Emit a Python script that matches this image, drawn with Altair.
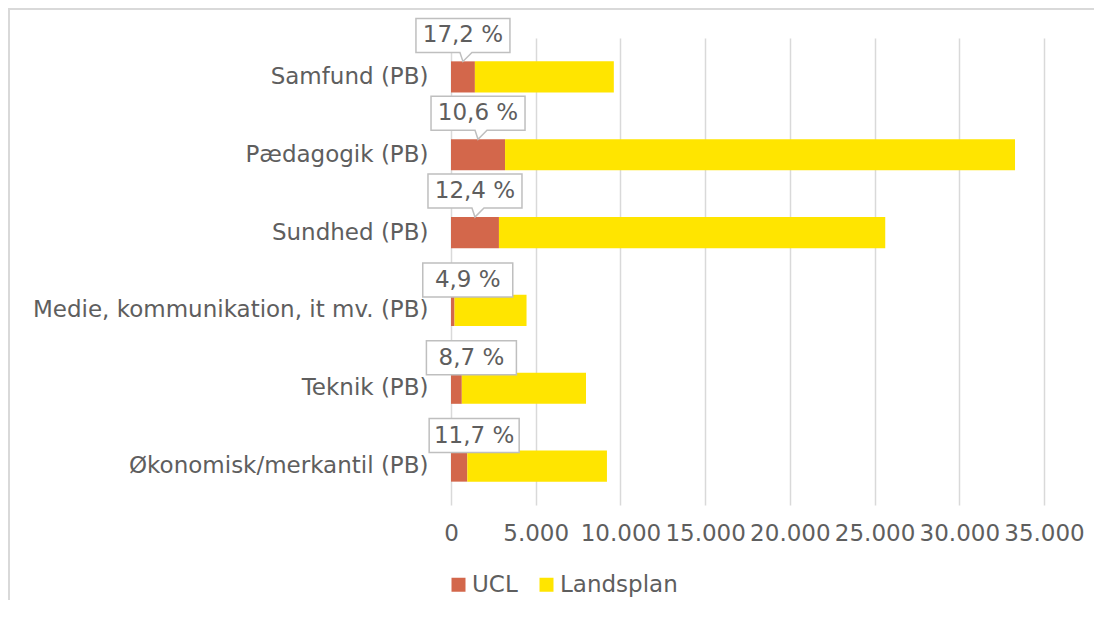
import altair as alt
import pandas as pd

categories = [
    "Samfund (PB)",
    "Pædagogik (PB)",
    "Sundhed (PB)",
    "Medie, kommunikation, it mv. (PB)",
    "Teknik (PB)",
    "Økonomisk/merkantil (PB)",
]
ucl = [1410, 3190, 2830, 208, 638, 964]
landsplan = [8200, 30100, 22800, 4250, 7330, 8240]
pct_labels = ["17,2 %", "10,6 %", "12,4 %", "4,9 %", "8,7 %", "11,7 %"]
series = ["UCL", "Landsplan"]
series_colors = ["#D3674B", "#FFE500"]
x_ticks = [0, 5000, 10000, 15000, 20000, 25000, 30000, 35000]

FONT = "DejaVu Sans"
FS = 23
TXT = "#5E5E5E"
GRID = "#D9D9D9"
BOX = "#BFBFBF"

rows = []
for i, c in enumerate(categories):
    rows.append({"cat": c, "series": series[0], "value": ucl[i], "sorder": 0})
    rows.append({"cat": c, "series": series[1], "value": landsplan[i], "sorder": 1})
bars_df = pd.DataFrame(rows)

lab_df = pd.DataFrame({
    "cat": categories,
    "ucl": ucl,
    "label": pct_labels,
    "idx": list(range(len(categories))),
})

xscale = alt.Scale(domain=[0, 35000], nice=False)
yscale = alt.Scale(paddingInner=0.6)
xaxis = alt.Axis(
    values=x_ticks, title=None,
    labelExpr="replace(format(datum.value, ','), ',', '.')",
    labelFont=FONT, labelFontSize=FS, labelColor=TXT, labelPadding=17,
    labelOverlap=False, labelFlush=False,
    ticks=False, domain=False, grid=True, gridColor=GRID, gridWidth=1.5,
)
yaxis = alt.Axis(
    title=None, labelFont=FONT, labelFontSize=FS, labelColor=TXT,
    labelPadding=23, labelLimit=700, ticks=False, domain=False, grid=False,
)

bars = alt.Chart(bars_df).mark_bar().encode(
    x=alt.X("value:Q", stack="zero", scale=xscale, axis=xaxis),
    y=alt.Y("cat:N", sort=categories, scale=yscale, axis=yaxis),
    color=alt.Color(
        "series:N",
        scale=alt.Scale(domain=series, range=series_colors),
        legend=alt.Legend(
            title=None, orient="none", legendX=-4, legendY=535,
            direction="horizontal", symbolType="square", symbolSize=196,
            symbolStrokeWidth=0, labelFont=FONT, labelFontSize=FS,
            labelColor=TXT, labelOffset=2, columnPadding=17, padding=0,
        ),
    ),
    order=alt.Order("sorder:Q"),
)

lab_base = alt.Chart(lab_df).transform_calculate(value="datum.ucl / 2")
enc = dict(
    x=alt.X("value:Q", scale=xscale, axis=xaxis),
    y=alt.Y("cat:N", sort=categories, scale=yscale, axis=yaxis),
)

PATH_TOP = "M-47,-58.5 L47,-58.5 L47,-24.5 L9,-24.5 L0,-15.5 L-3,-24.5 L-47,-24.5 Z"
PATH_BOT = "M-30,-47.5 L60,-47.5 L60,-13.5 L-30,-13.5 Z"

top_boxes = lab_base.transform_filter("datum.idx < 3").mark_point(
    shape=PATH_TOP, size=4, filled=True, fill="white", stroke=BOX,
    strokeWidth=1.5, opacity=1,
).encode(**enc)
bot_boxes = lab_base.transform_filter("datum.idx >= 3").mark_point(
    shape=PATH_BOT, size=4, filled=True, fill="white", stroke=BOX,
    strokeWidth=1.5, opacity=1,
).encode(**enc)
top_text = lab_base.transform_filter("datum.idx < 3").mark_text(
    font=FONT, fontSize=FS, color=TXT, dy=-41.5, baseline="middle", align="center",
).encode(text="label:N", **enc)
bot_text = lab_base.transform_filter("datum.idx >= 3").mark_text(
    font=FONT, fontSize=FS, color=TXT, dx=15, dy=-30.5, baseline="middle", align="center",
).encode(text="label:N", **enc)

frame_df = pd.DataFrame({"k": [0]})
frame_left = alt.Chart(frame_df).mark_rule(color=GRID, strokeWidth=2).encode(
    x=alt.value(-442), y=alt.value(-30), y2=alt.value(600)
)
frame_top = alt.Chart(frame_df).mark_rule(color=GRID, strokeWidth=2).encode(
    x=alt.value(-443), x2=alt.value(700), y=alt.value(-29)
)

chart = alt.layer(
    frame_left, frame_top, bars, top_boxes, bot_boxes, top_text, bot_text
).properties(
    width=593, height=467,
    autosize=alt.AutoSizeParams(type="none"),
    padding={"left": 443, "top": 30, "right": 50, "bottom": 95},
    background="white",
).configure_view(stroke=None)

chart.save("out.html", embed_options={"renderer": "svg", "actions": False})
